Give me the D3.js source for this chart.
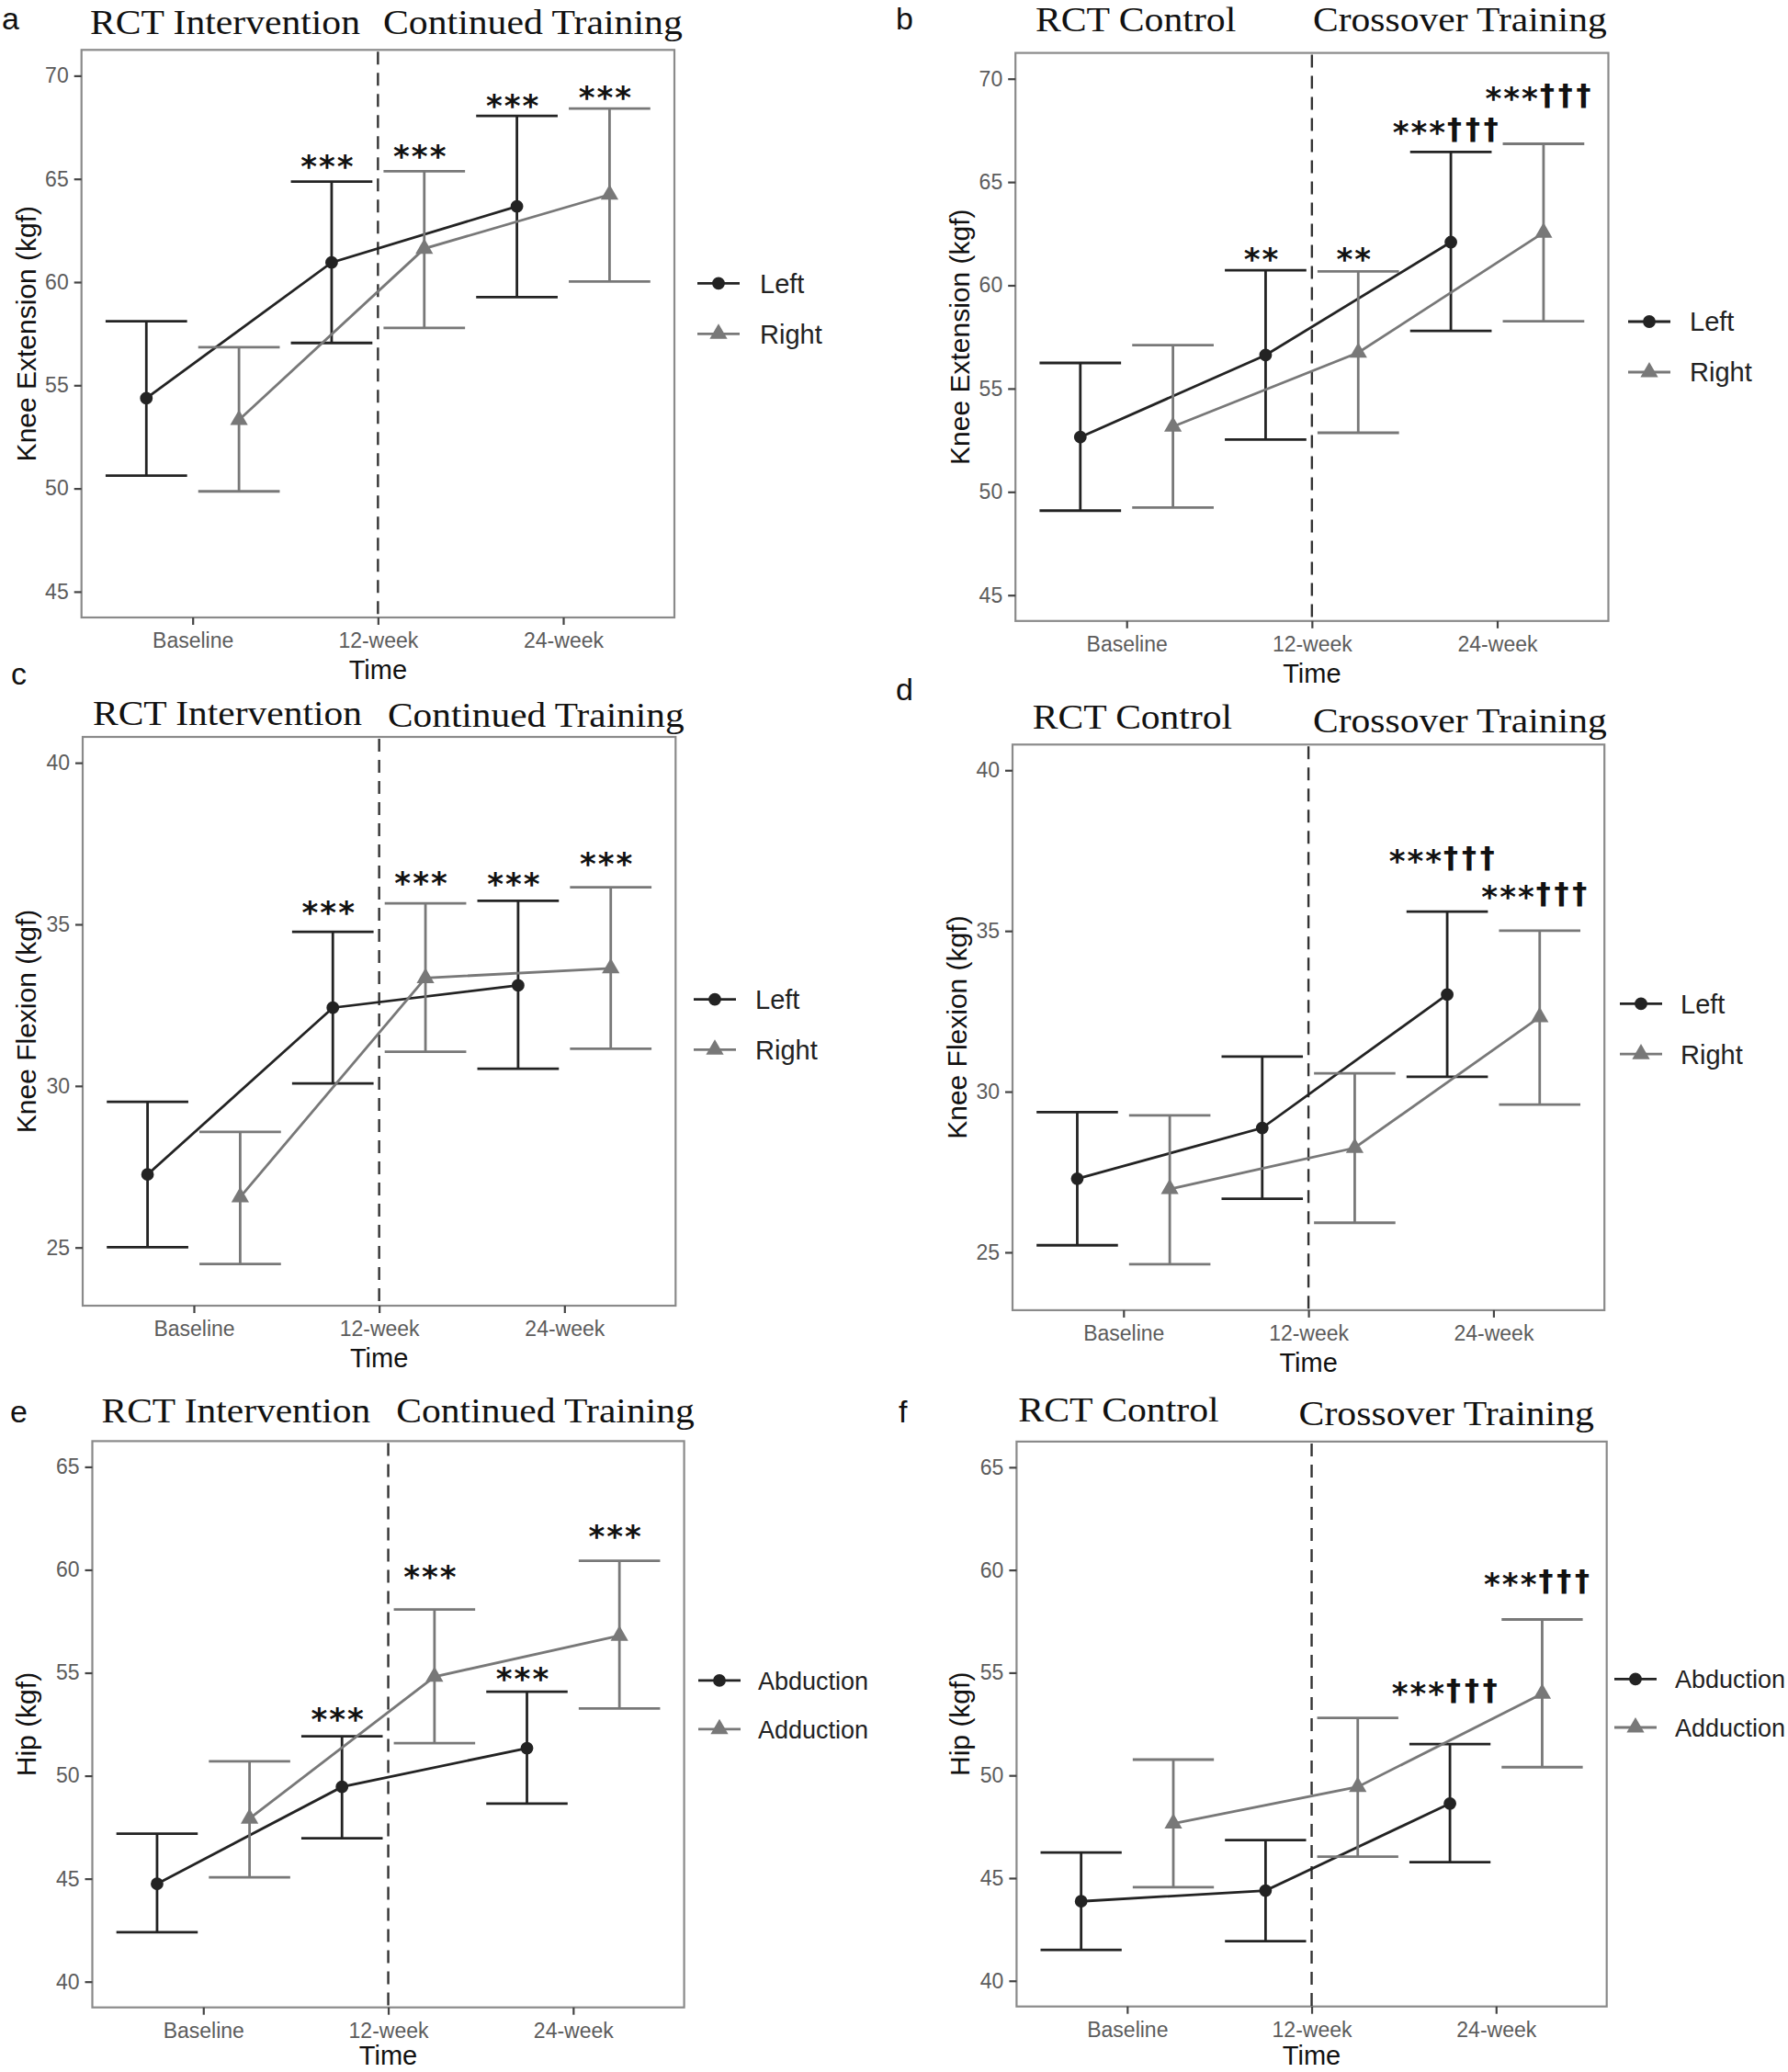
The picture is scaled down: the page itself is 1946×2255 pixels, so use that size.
<!DOCTYPE html>
<html><head><meta charset="utf-8">
<script src="https://cdn.jsdelivr.net/npm/d3@7"></script>
<style>body{margin:0;background:#fff}</style>
</head><body><svg id="chart" width="1946" height="2255"></svg>
<script>
// ---------------- DATA ----------------
const timepoints = ["Baseline", "12-week", "24-week"];
const panelLetters = ["a", "b", "c", "d", "e", "f"];
const leftTitles = ["RCT Intervention", "RCT Control", "RCT Intervention", "RCT Control", "RCT Intervention", "RCT Control"];
const rightTitles = ["Continued Training", "Crossover Training", "Continued Training", "Crossover Training", "Continued Training", "Crossover Training"];
const yAxisTitles = ["Knee Extension (kgf)", "Knee Extension (kgf)", "Knee Flexion (kgf)", "Knee Flexion (kgf)", "Hip (kgf)", "Hip (kgf)"];
const xAxisTitle = "Time";
const kneeSeriesNames = ["Left", "Right"];
const hipSeriesNames = ["Abduction", "Adduction"];
const extTicks = [45, 50, 55, 60, 65, 70];
const flexTicks = [25, 30, 35, 40];
const hipTicks = [40, 45, 50, 55, 60, 65];
const extLimits = [45, 70];
const flexLimits = [24, 40];
const hipLimits = [40, 65];

// a: Knee extension, RCT intervention
const aLeftMean = [54.37, 60.95, 63.67];
const aLeftLow = [50.62, 57.05, 59.27];
const aLeftHigh = [58.10, 64.87, 68.05];
const aRightMean = [53.32, 61.62, 64.24];
const aRightLow = [49.86, 57.78, 60.03];
const aRightHigh = [56.84, 65.37, 68.41];
const aLeftSig = ["", "***", "***"];
const aLeftSigY = [null, 65.96, 68.89];
const aRightSig = ["", "***", "***"];
const aRightSigY = [null, 66.44, 69.31];

// b: Knee extension, RCT control
const bLeftMean = [52.65, 56.62, 62.09];
const bLeftLow = [49.09, 52.53, 57.79];
const bLeftHigh = [56.24, 60.73, 66.46];
const bRightMean = [53.16, 56.74, 62.55];
const bRightLow = [49.24, 52.86, 58.26];
const bRightHigh = [57.10, 60.67, 66.85];
const bLeftSig = ["", "**", "***†††"];
const bLeftSigY = [null, 61.61, 67.76];
const bRightSig = ["", "**", "***†††"];
const bRightSigY = [null, 61.61, 69.41];

// c: Knee flexion, RCT intervention
const cLeftMean = [27.26, 32.42, 33.11];
const cLeftLow = [25.01, 30.08, 30.53];
const cLeftHigh = [29.51, 34.77, 35.73];
const cRightMean = [26.56, 33.34, 33.64];
const cRightLow = [24.49, 31.06, 31.15];
const cRightHigh = [28.58, 35.65, 36.15];
const cLeftSig = ["", "***", "***"];
const cLeftSigY = [null, 35.61, 36.48];
const cRightSig = ["", "***", "***"];
const cRightSigY = [null, 36.50, 37.10];

// d: Knee flexion, RCT control
const dLeftMean = [27.29, 28.87, 33.02];
const dLeftLow = [25.22, 26.67, 30.46];
const dLeftHigh = [29.36, 31.09, 35.60];
const dRightMean = [26.97, 28.25, 32.32];
const dRightLow = [24.63, 25.92, 29.60];
const dRightHigh = [29.26, 30.57, 35.01];
const dLeftSig = ["", "", "***†††"];
const dLeftSigY = [null, null, 37.41];
const dRightSig = ["", "", "***†††"];
const dRightSigY = [null, null, 36.30];

// e: Hip, RCT intervention
const eAbdMean = [44.75, 49.46, 51.34];
const eAbdLow = [42.40, 46.96, 48.65];
const eAbdHigh = [47.19, 51.92, 54.08];
const eAddMean = [47.92, 54.81, 56.80];
const eAddLow = [45.07, 51.58, 53.27];
const eAddHigh = [50.70, 58.07, 60.44];
const eAbdSig = ["", "***", "***"];
const eAbdSigY = [null, 53.12, 55.09];
const eAddSig = ["", "***", "***"];
const eAddSigY = [null, 60.03, 62.00];

// f: Hip, RCT control
const fAbdMean = [43.87, 44.39, 48.63];
const fAbdLow = [41.50, 41.93, 45.78];
const fAbdHigh = [46.25, 46.85, 51.52];
const fAddMean = [47.66, 49.44, 53.98];
const fAddLow = [44.56, 46.04, 50.40];
const fAddHigh = [50.77, 52.80, 57.59];
const fAbdSig = ["", "", "***†††"];
const fAbdSigY = [null, null, 54.36];
const fAddSig = ["", "", "***†††"];
const fAddSigY = [null, null, 59.65];

// ---------------- BUILD PANEL TABLE ----------------
function ser(mean, low, high, sig, sigY) { return {mean, low, high, sig, sigY}; }
const panels = [
  {names: kneeSeriesNames, ticks: extTicks, limits: extLimits,
   series: [ser(aLeftMean, aLeftLow, aLeftHigh, aLeftSig, aLeftSigY), ser(aRightMean, aRightLow, aRightHigh, aRightSig, aRightSigY)]},
  {names: kneeSeriesNames, ticks: extTicks, limits: extLimits,
   series: [ser(bLeftMean, bLeftLow, bLeftHigh, bLeftSig, bLeftSigY), ser(bRightMean, bRightLow, bRightHigh, bRightSig, bRightSigY)]},
  {names: kneeSeriesNames, ticks: flexTicks, limits: flexLimits,
   series: [ser(cLeftMean, cLeftLow, cLeftHigh, cLeftSig, cLeftSigY), ser(cRightMean, cRightLow, cRightHigh, cRightSig, cRightSigY)]},
  {names: kneeSeriesNames, ticks: flexTicks, limits: flexLimits,
   series: [ser(dLeftMean, dLeftLow, dLeftHigh, dLeftSig, dLeftSigY), ser(dRightMean, dRightLow, dRightHigh, dRightSig, dRightSigY)]},
  {names: hipSeriesNames, ticks: hipTicks, limits: hipLimits,
   series: [ser(eAbdMean, eAbdLow, eAbdHigh, eAbdSig, eAbdSigY), ser(eAddMean, eAddLow, eAddHigh, eAddSig, eAddSigY)]},
  {names: hipSeriesNames, ticks: hipTicks, limits: hipLimits,
   series: [ser(fAbdMean, fAbdLow, fAbdHigh, fAbdSig, fAbdSigY), ser(fAddMean, fAddLow, fAddHigh, fAddSig, fAddSigY)]}
];

// ---------------- LAYOUT / STYLE ----------------
const boxes = [
  {x0: 88.7, x1: 734, y0: 54.3, y1: 672},
  {x0: 1105.2, x1: 1750.5, y0: 57.6, y1: 675.8},
  {x0: 90, x1: 735.3, y0: 802, y1: 1421},
  {x0: 1102, x1: 1746.2, y0: 810.3, y1: 1425.9},
  {x0: 100.5, x1: 744.6, y0: 1568.4, y1: 2184.7},
  {x0: 1106.4, x1: 1748.7, y0: 1568.9, y1: 2183.7}
];
const titlePos = [
  {l: [98, 294, 37], r: [417, 325.8, 37]},
  {l: [1126.9, 218.4, 34], r: [1429, 319.7, 34]},
  {l: [101, 293, 789.4], r: [422, 322.6, 791]},
  {l: [1123.8, 217.2, 793.3], r: [1429, 319.7, 797.2]},
  {l: [110.5, 292.8, 1548.2], r: [431.3, 324.5, 1548.2]},
  {l: [1108.3, 218.4, 1547.2], r: [1413.6, 321.4, 1550.6]}
];
const letterPos = [[2, 32], [975, 32], [12, 745], [975, 762], [11, 1548], [978, 1548]];
const yTitleX = [28, 1044, 28, 1041, 28, 1044];
const legendPos = [
  {cx: 782, y: [308.3, 363.3], tx: 827, fs: 29},
  {cx: 1795, y: [350, 405], tx: 1839, fs: 29},
  {cx: 778, y: [1087.6, 1142.3], tx: 822, fs: 29},
  {cx: 1786, y: [1092.4, 1147.1], tx: 1829, fs: 29},
  {cx: 783, y: [1828.9, 1881.8], tx: 825, fs: 27},
  {cx: 1780, y: [1827.3, 1880], tx: 1823, fs: 27}
];
const seriesColors = ["#232323", "#787878"];
const SANS = "'Liberation Sans', Arial, sans-serif";
const SERIF = "'Liberation Serif', 'Times New Roman', serif";
const SIGFONT = "'DejaVu Sans', sans-serif";

const svg = d3.select("#chart");
svg.append("rect").attr("width", 1946).attr("height", 2255).attr("fill", "#fff");

function fitSpacing(tspan, target, n) {
  const len = tspan.node().getComputedTextLength();
  tspan.attr("letter-spacing", ((target - len) / n).toFixed(2));
}

panels.forEach((p, i) => {
  const b = boxes[i];
  const g = svg.append("g");
  const x = d3.scalePoint().domain(timepoints).range([b.x0, b.x1]).padding(0.6);
  const step = x.step();
  const span = p.limits[1] - p.limits[0];
  const y = d3.scaleLinear().domain([p.limits[0] - 0.05 * span, p.limits[1] + 0.05 * span]).range([b.y1, b.y0]);
  const dodge = [-0.25 * step, 0.25 * step];
  const capHalf = 0.22 * step;

  // panel border
  g.append("rect").attr("x", b.x0).attr("y", b.y0).attr("width", b.x1 - b.x0).attr("height", b.y1 - b.y0)
    .attr("fill", "none").attr("stroke", "#8a8a8a").attr("stroke-width", 2.2);

  // axes
  const yAxis = d3.axisLeft(y).tickValues(p.ticks).tickSize(8).tickPadding(6).tickFormat(d3.format("d"));
  const ya = g.append("g").attr("transform", `translate(${b.x0},0)`).call(yAxis);
  const xAxis = d3.axisBottom(x).tickSize(8).tickPadding(9);
  const xa = g.append("g").attr("transform", `translate(0,${b.y1})`).call(xAxis);
  [ya, xa].forEach(a => {
    a.select(".domain").remove();
    a.selectAll(".tick line").attr("stroke", "#444").attr("stroke-width", 2.2);
    a.selectAll(".tick text").attr("font-family", SANS).attr("font-size", 23).attr("fill", "#5c5c5c");
  });

  // dashed vertical line at 12-week
  g.append("line").attr("x1", x(timepoints[1])).attr("x2", x(timepoints[1]))
    .attr("y1", b.y0 + 2).attr("y2", b.y1)
    .attr("stroke", "#333").attr("stroke-width", 2.4).attr("stroke-dasharray", "14,9");

  // series
  p.series.forEach((s, k) => {
    const col = seriesColors[k];
    const pts = timepoints.map((t, j) => ({x: x(t) + dodge[k], m: s.mean[j], lo: s.low[j], hi: s.high[j], sig: s.sig[j], sy: s.sigY[j]}));
    // error bars
    const eb = g.append("g").attr("stroke", col).attr("stroke-width", 2.8).attr("fill", "none");
    pts.forEach(d => {
      eb.append("line").attr("x1", d.x).attr("x2", d.x).attr("y1", y(d.lo)).attr("y2", y(d.hi));
      eb.append("line").attr("x1", d.x - capHalf).attr("x2", d.x + capHalf).attr("y1", y(d.lo)).attr("y2", y(d.lo));
      eb.append("line").attr("x1", d.x - capHalf).attr("x2", d.x + capHalf).attr("y1", y(d.hi)).attr("y2", y(d.hi));
    });
    // line
    g.append("path").datum(pts).attr("fill", "none").attr("stroke", col).attr("stroke-width", 2.8)
      .attr("d", d3.line().x(d => d.x).y(d => y(d.m)));
    // points
    const sym = k === 0 ? d3.symbol().type(d3.symbolCircle).size(150) : d3.symbol().type(d3.symbolTriangle).size(160);
    g.selectAll(null).data(pts).enter().append("path")
      .attr("transform", d => `translate(${d.x},${y(d.m)})`).attr("d", sym).attr("fill", col);
    // significance labels
    pts.filter(d => d.sig).forEach(d => {
      const chars = [...d.sig];
      const stars = chars.filter(c => c === "*").join("");
      const daggers = chars.filter(c => c !== "*").join("");
      const t = g.append("text").attr("x", d.x - 4).attr("y", y(d.sy) + 20)
        .attr("text-anchor", "middle").attr("font-family", SIGFONT).attr("font-weight", "bold").attr("fill", "#111");
      const ts = t.append("tspan").attr("font-size", 34).text(stars);
      fitSpacing(ts, 19.8 * stars.length, stars.length);
      if (daggers) {
        const td = t.append("tspan").attr("font-size", 32).attr("dy", -5).text(daggers);
        fitSpacing(td, 19.8 * daggers.length, daggers.length);
      }
    });
  });

  // phase titles
  const tp = titlePos[i];
  [[leftTitles[i], tp.l], [rightTitles[i], tp.r]].forEach(([txt, pos]) => {
    g.append("text").attr("x", pos[0]).attr("y", pos[2]).attr("font-family", SERIF).attr("font-size", 37)
      .attr("fill", "#111").attr("textLength", pos[1]).attr("lengthAdjust", "spacingAndGlyphs").text(txt);
  });

  // panel letter
  g.append("text").attr("x", letterPos[i][0]).attr("y", letterPos[i][1]).attr("font-family", SANS)
    .attr("font-size", 34).attr("fill", "#111").text(panelLetters[i]);

  // axis titles
  g.append("text").attr("x", (b.x0 + b.x1) / 2).attr("y", Math.min(b.y1 + 67, 2247)).attr("text-anchor", "middle")
    .attr("font-family", SANS).attr("font-size", 29).attr("fill", "#111").text(xAxisTitle);
  g.append("text").attr("transform", `translate(${yTitleX[i]},${(b.y0 + b.y1) / 2}) rotate(-90)`)
    .attr("text-anchor", "middle").attr("dy", "0.36em")
    .attr("font-family", SANS).attr("font-size", 30).attr("fill", "#111").text(yAxisTitles[i]);

  // legend
  const lp = legendPos[i];
  p.names.forEach((nm, k) => {
    const col = seriesColors[k];
    const ly = lp.y[k];
    g.append("line").attr("x1", lp.cx - 23).attr("x2", lp.cx + 23).attr("y1", ly).attr("y2", ly)
      .attr("stroke", col).attr("stroke-width", 2.8);
    const sym = k === 0 ? d3.symbol().type(d3.symbolCircle).size(150) : d3.symbol().type(d3.symbolTriangle).size(160);
    g.append("path").attr("transform", `translate(${lp.cx},${ly})`).attr("d", sym).attr("fill", col);
    g.append("text").attr("x", lp.tx).attr("y", ly).attr("dy", "0.36em").attr("font-family", SANS)
      .attr("font-size", lp.fs).attr("fill", "#222").text(nm);
  });
});
</script></body></html>
